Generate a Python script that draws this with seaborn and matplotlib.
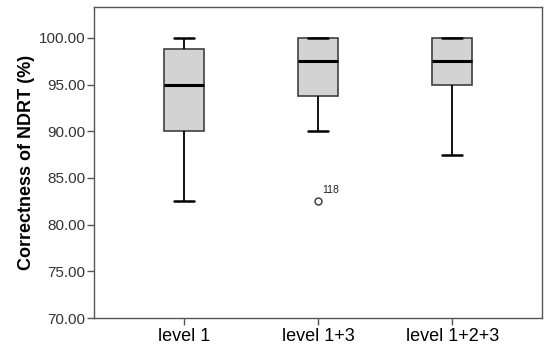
import matplotlib
matplotlib.use("Agg")
import matplotlib.pyplot as plt
import seaborn as sns
import pandas as pd

categories = ["level 1", "level 1+3", "level 1+2+3"]
level1 = [82.5, 90.0, 95.0, 98.75, 100.0]
level13 = [82.5, 90.0, 93.75, 95.0, 97.5, 100.0, 100.0, 100.0, 100.0]
level123 = [87.5, 95.0, 97.5, 100.0, 100.0]
outlier_label = "118"
outlier_value = 82.5
yticks = [70, 75, 80, 85, 90, 95, 100]

df = pd.DataFrame({
    "group": [categories[0]] * len(level1) + [categories[1]] * len(level13) + [categories[2]] * len(level123),
    "value": level1 + level13 + level123,
})

sns.set_style("white")
plt.rcParams["font.family"] = ["Liberation Sans", "DejaVu Sans"]

fig = plt.figure(figsize=(5.5, 3.52), dpi=100)
ax = fig.add_axes([94 / 550, 1 - 318 / 352, 448 / 550, 311 / 352])

sns.boxplot(
    data=df, x="group", y="value", order=categories, ax=ax,
    color="#d3d3d3", width=0.3, whis=1.5, saturation=1,
    linecolor="#333333", linewidth=1.3,
    boxprops=dict(facecolor="#d3d3d3", edgecolor="#404040", linewidth=1.2),
    medianprops=dict(color="black", linewidth=2.2),
    whiskerprops=dict(color="black", linewidth=1.3),
    capprops=dict(color="black", linewidth=1.8),
    flierprops=dict(marker="o", markersize=5, markerfacecolor="white",
                    markeredgecolor="#333333", markeredgewidth=1.0),
)

ax.annotate(outlier_label, xy=(1, outlier_value), xytext=(3, 6),
            textcoords="offset points", fontsize=7.5, color="#222222")

ax.set_xlim(-0.67, 2.67)
ax.set_ylim(70, 103.3)
ax.set_yticks(yticks)
ax.set_yticklabels([f"{v:.2f}" for v in yticks])
ax.set_xlabel("")
ax.set_ylabel("Correctness of NDRT (%)", fontsize=13, fontweight="bold", color="black", labelpad=3)

for s in ax.spines.values():
    s.set_visible(True)
    s.set_color("#555555")
    s.set_linewidth(1.0)

ax.tick_params(axis="y", direction="out", length=5, width=1, color="#555555",
               labelsize=11, labelcolor="#333333", left=True, pad=1)
ax.tick_params(axis="x", direction="out", length=5, width=1, color="#555555",
               labelsize=13, labelcolor="black", bottom=True, pad=2)

fig.savefig("out.png", dpi=100)
